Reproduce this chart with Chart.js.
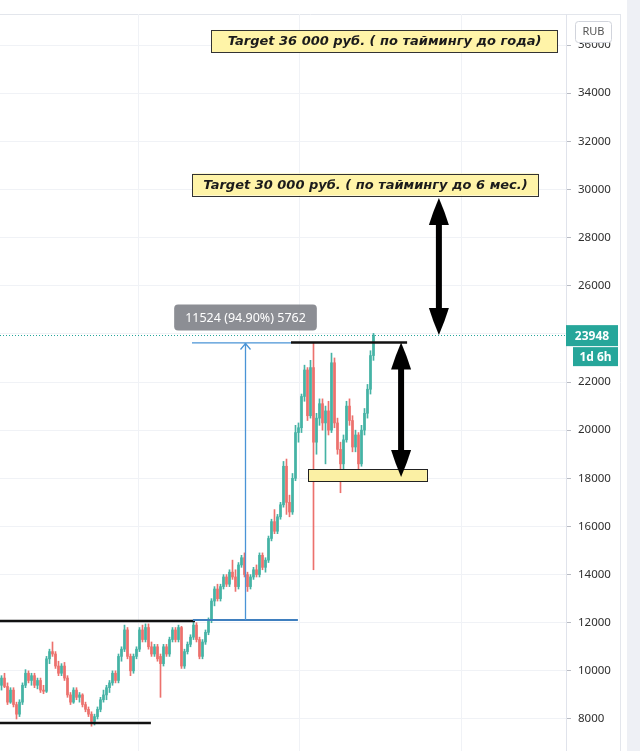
<!DOCTYPE html>
<html>
<head>
<meta charset="utf-8">
<script src="https://cdn.jsdelivr.net/npm/chart.js@4.4.1/dist/chart.umd.min.js"></script>
<style>
  html, body { margin: 0; padding: 0; background: #fff; }
  #wrap { width: 640px; height: 751px; position: relative; }
</style>
</head>
<body>
<div id="wrap"><canvas id="chart"></canvas></div>
<script>
// Candles (one per ~3px, oldest first)
const OPEN = [
  9400, 9700, 9350, 8700, 9200, 8600, 8200, 8700, 9400, 9900,
  9600, 9800, 9400, 9600, 9200, 9150, 10500, 10800, 10700, 10200,
  9900, 10200, 9700, 9000, 8700, 9200, 8900, 9000, 8600, 8400,
  8200, 7900, 8100, 8400, 8800, 9000, 9300, 9500, 9900, 9600,
  10600, 10900, 11700, 10600, 10000, 10600, 10900, 11700, 11300, 11800,
  11000, 10700, 11000, 10600, 10300, 11000, 10700, 11300, 11700, 11300,
  11800, 10200, 10800, 11100, 11400, 11900, 11300, 10600, 11200, 11600,
  12100, 12900, 13400, 13000, 13500, 13900, 13600, 14100, 13900, 13500,
  14400, 14700, 14000, 13500, 13900, 14200, 14000, 14800, 14300, 14600,
  15500, 16200, 15800, 16400, 16900, 18500, 17000, 16600, 18000, 19900,
  20100, 21400, 22500, 20600, 22600, 19500, 20500, 21100, 20300, 20800,
  20000, 22800, 20300, 19200, 18600, 19600, 21000, 20400, 19300, 19800,
  18600, 20000, 20700, 21700, 23100
];
const HIGH = [
  9800, 9900, 9500, 9300, 9300, 8700, 8800, 9500, 10050, 10000,
  9900, 9900, 9700, 9700, 9400, 10600, 10900, 11200, 10800, 10400,
  10300, 10350, 9800, 9100, 9300, 9300, 9100, 9050, 8700, 8500,
  8300, 8200, 8500, 8900, 9200, 9400, 9600, 10000, 10000, 10700,
  11000, 11900, 11800, 10700, 10700, 11000, 11800, 11900, 11950, 11950,
  11200, 11100, 11100, 10700, 11100, 11100, 11400, 11800, 11800, 11900,
  11850, 10900, 11200, 11500, 12100, 12000, 11400, 11300, 11700, 12200,
  13000, 13500, 13600, 13600, 14000, 14000, 14200, 14600, 14200, 14500,
  14800, 14900, 14100, 14000, 14300, 14400, 14900, 14900, 14700, 15600,
  16300, 16700, 16500, 17000, 18700, 18800, 17300, 18200, 20200, 20300,
  21500, 22700, 22600, 22900, 23650, 20700, 21300, 21300, 21000, 21200,
  23200, 23000, 20500, 19500, 19800, 21200, 21300, 20600, 20000, 19900,
  20200, 20900, 21900, 23300, 24020
];
const LOW = [
  9200, 9300, 8600, 8650, 8500, 8000, 8100, 8600, 9300, 9500,
  9400, 9300, 9250, 9100, 9050, 9100, 10300, 10600, 10100, 9800,
  9800, 9600, 8900, 8600, 8650, 8800, 8700, 8500, 8300, 8100,
  7700, 7750, 8000, 8300, 8700, 8800, 9100, 9400, 9500, 9500,
  10400, 10800, 10500, 9800, 9900, 10500, 10800, 11200, 11200, 10900,
  10600, 10600, 10400, 8900, 10200, 10600, 10600, 11200, 11200, 11200,
  10100, 10100, 10700, 11000, 11300, 11200, 10500, 10500, 11100, 11500,
  12000, 12700, 12900, 12900, 13400, 13500, 13500, 13800, 13300, 13400,
  14300, 13900, 13300, 13400, 13800, 13900, 13900, 14200, 14100, 14500,
  15400, 15700, 15700, 16300, 16800, 16500, 16400, 16500, 17900, 19500,
  19900, 21200, 20400, 20500, 14200, 19000, 20200, 20000, 18600, 19800,
  19900, 20100, 19000, 17400, 18300, 19500, 20200, 19100, 19100, 18400,
  18500, 19800, 20500, 21500, 22900
];
const CLOSE = [
  9700, 9350, 8700, 9200, 8600, 8200, 8700, 9400, 9900, 9600,
  9800, 9400, 9600, 9200, 9150, 10500, 10800, 10700, 10200, 9900,
  10200, 9700, 9000, 8700, 9200, 8900, 9000, 8600, 8400, 8200,
  7900, 8100, 8400, 8800, 9000, 9300, 9500, 9900, 9600, 10600,
  10900, 11700, 10600, 10000, 10600, 10900, 11700, 11300, 11800, 11000,
  10700, 11000, 10500, 10300, 11000, 10700, 11300, 11700, 11300, 11800,
  10200, 10800, 11100, 11400, 11900, 11300, 10600, 11200, 11600, 12100,
  12900, 13400, 13000, 13500, 13900, 13600, 14100, 13900, 13500, 14400,
  14700, 14000, 13500, 13900, 14200, 14000, 14800, 14300, 14600, 15500,
  16200, 15800, 16400, 16900, 18500, 17000, 16600, 18000, 19900, 20100,
  21400, 22500, 20600, 22600, 19500, 20500, 21100, 20300, 20800, 20000,
  22800, 20300, 19200, 18600, 19600, 21000, 20400, 19300, 19800, 18600,
  20000, 20700, 21700, 23100, 23948
];

const Y_TICKS = [8000, 10000, 12000, 14000, 16000, 18000, 20000, 22000,
                 24000, 26000, 28000, 30000, 32000, 34000, 36000];
const X_GRID = [45.8, 99.5, 153.2];
const LAST_PRICE = 23948;
const COUNTDOWN = '1d 6h';
const CURRENCY = 'RUB';

// Drawings on the chart, in candle index / price units
const SUPPORT_LOW = { from: -1, to: 49.8, price: 7834 };
const RESIST_OLD = { from: -1, to: 64.5, price: 12070 };
const RESIST_NEW = { from: 96.5, to: 135.2, price: 23643 };
const MEASURE = { from: 63.5, to: 98.8, at: 81.2, low: 12110, high: 23643, label: '11524 (94.90%) 5762' };
const BASE_BOX = { from: 102.2, to: 141.8, top: 18386, bottom: 17888 };
const ARROWS = [
  { at: 133.2, top: 23640, bottom: 18050 },
  { at: 145.8, top: 29645, bottom: 23950 }
];
const TARGETS = [
  { text: 'Target 30 000 руб. ( по таймингу до 6 мес.)', from: 63.5, to: 178.8, price: 30206 },
  { text: 'Target 36 000 руб. ( по таймингу до года)', from: 69.8, to: 185.2, price: 36170 }
];

const UP = '#45b3a5';
const DOWN = '#ec716d';
const TEAL = '#26a69a';

const candleColor = (ctx) => CLOSE[ctx.dataIndex] >= OPEN[ctx.dataIndex] ? UP : DOWN;

const overlay = {
  id: 'overlay',
  beforeDraw(chart) {
    const c = chart.ctx;
    c.save();
    c.fillStyle = '#ffffff';
    c.fillRect(0, 0, chart.width, chart.height);
    c.fillStyle = '#eef0f5';
    c.fillRect(627, 0, 13, chart.height);
    c.strokeStyle = '#e3e6ec';
    c.lineWidth = 1;
    c.beginPath();
    c.moveTo(0, 14.5); c.lineTo(621, 14.5);
    c.moveTo(620.5, 14); c.lineTo(620.5, chart.height);
    c.stroke();
    c.restore();
  },
  afterDatasetsDraw(chart) {
    const c = chart.ctx;
    const xs = chart.scales.x, ys = chart.scales.y;
    const X = v => xs.getPixelForValue(v);
    const Y = v => ys.getPixelForValue(v);
    const area = chart.chartArea;
    c.save();

    // last price dotted line
    c.strokeStyle = TEAL;
    c.lineWidth = 1;
    c.setLineDash([1, 2]);
    c.beginPath();
    c.moveTo(area.left, Math.round(Y(LAST_PRICE)) + 0.5);
    c.lineTo(area.right, Math.round(Y(LAST_PRICE)) + 0.5);
    c.stroke();
    c.setLineDash([]);

    // horizontal levels
    const hline = (l, color, w) => {
      c.strokeStyle = color;
      c.lineWidth = w;
      c.beginPath();
      c.moveTo(X(l.from), Y(l.price));
      c.lineTo(X(l.to), Y(l.price));
      c.stroke();
    };
    hline(SUPPORT_LOW, '#111', 2.5);
    hline(RESIST_OLD, '#111', 2.5);

    // measure tool
    c.strokeStyle = '#3f7fbf';
    c.lineWidth = 2;
    c.beginPath();
    c.moveTo(X(MEASURE.from + 0.3), Y(MEASURE.low));
    c.lineTo(X(MEASURE.to), Y(MEASURE.low));
    c.stroke();
    c.strokeStyle = '#4a94d6';
    c.lineWidth = 1.3;
    c.beginPath();
    c.moveTo(X(MEASURE.from), Y(MEASURE.high) + 0.5);
    c.lineTo(X(RESIST_NEW.from), Y(MEASURE.high) + 0.5);
    const mx = Math.round(X(MEASURE.at)) + 0.5;
    c.moveTo(mx, Y(MEASURE.low));
    c.lineTo(mx, Y(MEASURE.high) + 1);
    c.moveTo(mx - 5, Y(MEASURE.high) + 7);
    c.lineTo(mx, Y(MEASURE.high) + 1);
    c.lineTo(mx + 5, Y(MEASURE.high) + 7);
    c.stroke();

    hline(RESIST_NEW, '#111', 2.5);

    // measure label
    c.font = '12.5px "Noto Sans", sans-serif';
    const tw = c.measureText(MEASURE.label).width;
    const ly = Y(MEASURE.high) - 25;
    c.fillStyle = 'rgba(128,130,136,0.9)';
    c.beginPath();
    c.roundRect(mx - tw / 2 - 11, ly - 13, tw + 22, 26, 4);
    c.fill();
    c.fillStyle = '#ffffff';
    c.textAlign = 'center';
    c.textBaseline = 'middle';
    c.fillText(MEASURE.label, mx, ly + 1);

    // base box
    c.fillStyle = '#fbf0a4';
    c.strokeStyle = '#222';
    c.lineWidth = 1;
    const bx = X(BASE_BOX.from), by = Y(BASE_BOX.top);
    const bw = X(BASE_BOX.to) - bx, bh = Y(BASE_BOX.bottom) - by;
    c.fillRect(bx, by, bw, bh);
    c.strokeRect(Math.round(bx) + 0.5, Math.round(by) + 0.5, Math.round(bw), Math.round(bh));

    // double arrows
    c.fillStyle = '#000';
    c.strokeStyle = '#000';
    ARROWS.forEach(a => {
      const ax = X(a.at), t = Y(a.top), b = Y(a.bottom);
      c.lineWidth = 6;
      c.beginPath();
      c.moveTo(ax, t + 20);
      c.lineTo(ax, b - 20);
      c.stroke();
      [[t, 1], [b, -1]].forEach(([tip, d]) => {
        c.beginPath();
        c.moveTo(ax, tip);
        c.quadraticCurveTo(ax + 6, tip + d * 14, ax + 10, tip + d * 27);
        c.lineTo(ax - 10, tip + d * 27);
        c.quadraticCurveTo(ax - 6, tip + d * 14, ax, tip);
        c.fill();
      });
    });
    c.restore();
  },
  afterDraw(chart) {
    const c = chart.ctx;
    const xs = chart.scales.x, ys = chart.scales.y;
    const X = v => xs.getPixelForValue(v);
    const Y = v => ys.getPixelForValue(v);
    c.save();

    // target labels
    TARGETS.forEach(t => {
      const x0 = Math.round(X(t.from)) + 0.5, x1 = Math.round(X(t.to)) + 0.5;
      const yc = Y(t.price);
      c.fillStyle = '#fff4a8';
      c.fillRect(x0, yc - 11, x1 - x0, 22);
      c.strokeStyle = '#333';
      c.lineWidth = 1;
      c.strokeRect(x0, Math.round(yc - 11) + 0.5, x1 - x0, 22);
      c.fillStyle = '#1b1b1b';
      c.font = 'italic bold 13px "DejaVu Sans", sans-serif';
      c.textAlign = 'center';
      c.textBaseline = 'middle';
      c.fillText(t.text, (x0 + x1) / 2, yc + 1, x1 - x0 - 12);
    });

    // currency badge
    c.fillStyle = '#ffffff';
    c.strokeStyle = '#d1d4dc';
    c.beginPath();
    c.roundRect(575.5, 21.5, 36, 21, 3);
    c.fill();
    c.stroke();
    c.fillStyle = '#555';
    c.font = '11px "Noto Sans", sans-serif';
    c.textAlign = 'center';
    c.textBaseline = 'middle';
    c.fillText(CURRENCY, 593.5, 32);

    // last price + countdown
    const py = Y(LAST_PRICE);
    c.fillStyle = TEAL;
    c.fillRect(566, py - 10, 52, 21);
    c.fillRect(573, py + 12, 45, 19);
    c.fillStyle = '#ffffff';
    c.font = 'bold 12px "Noto Sans", sans-serif';
    c.fillText(String(LAST_PRICE), 592, py + 1);
    c.fillText(COUNTDOWN, 595.5, py + 22);
    c.restore();
  }
};

const chart = new Chart(document.getElementById('chart'), {
  type: 'bar',
  data: {
    datasets: [
      {
        label: 'wick',
        data: HIGH.map((h, i) => ({ x: i, y: [LOW[i], h] })),
        backgroundColor: candleColor,
        barThickness: 1,
        grouped: false,
        order: 2
      },
      {
        label: 'body',
        data: OPEN.map((o, i) => ({ x: i, y: [o, CLOSE[i]] })),
        backgroundColor: candleColor,
        barThickness: 2,
        minBarLength: 1,
        grouped: false,
        order: 1
      }
    ]
  },
  options: {
    responsive: true,
    maintainAspectRatio: false,
    animation: false,
    layout: { padding: { top: 14, left: 0, right: 0, bottom: 0 } },
    plugins: {
      legend: { display: false },
      tooltip: { enabled: false }
    },
    scales: {
      x: {
        type: 'linear',
        min: -0.5,
        max: 188.17,
        offset: false,
        afterBuildTicks: (s) => { s.ticks = X_GRID.map(v => ({ value: v })); },
        afterFit: (s) => { s.height = 0; s.paddingLeft = 0; s.paddingRight = 0; },
        ticks: { display: false, padding: 0 },
        grid: { color: '#f0f2f6', drawTicks: false, tickLength: 0, offset: false },
        border: { display: false }
      },
      y: {
        position: 'right',
        min: 6670,
        max: 37290,
        afterBuildTicks: (s) => { s.ticks = Y_TICKS.map(v => ({ value: v })); },
        afterFit: (s) => { s.width = 74; s.paddingTop = 0; s.paddingBottom = 0; },
        ticks: {
          callback: (v) => String(v),
          color: '#2f2f2f',
          padding: 7,
          font: { family: '"Noto Sans", sans-serif', size: 11.5 }
        },
        grid: { color: '#f0f2f6', tickColor: '#b8bbc3', tickLength: 5 },
        border: { color: '#e0e3eb' }
      }
    }
  },
  plugins: [overlay]
});
</script>
</body>
</html>
